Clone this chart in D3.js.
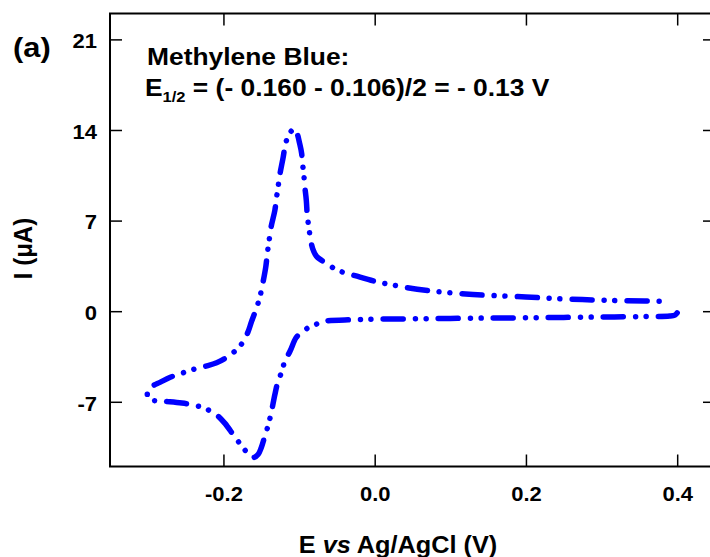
<!DOCTYPE html>
<html lang="en">
<head>
    <meta charset="UTF-8">
    <title>Methylene Blue CV</title>
    <script src="https://cdn.jsdelivr.net/npm/d3@7"></script>
    <style>
        body { margin: 0; background: #fff; }
        svg { display: block; }
        text { font-family: "Liberation Sans", Arial, sans-serif; font-weight: bold; fill: #000; }
    </style>
</head>
<body>
<svg id="chart" width="710" height="557"></svg>

<script>

// axis ticks
var xTicks = [-0.2, 0.0, 0.2, 0.4];
var yTicks = [-7, 0, 7, 14, 21];

// cyclic voltammogram, lower (cathodic) branch from 0.4 V then upper branch back
var potential = [0.400, 0.397, 0.390, 0.350, 0.300, 0.250, 0.200, 0.150, 0.100, 0.050,
    0.000, -0.030, -0.064, -0.077, -0.090, -0.098, -0.104, -0.112, -0.119, -0.123,
    -0.128, -0.132, -0.137, -0.141, -0.1455, -0.150, -0.154, -0.160, -0.1665, -0.172,
    -0.180, -0.187, -0.198, -0.209, -0.225, -0.240, -0.255, -0.271, -0.287, -0.296,
    -0.300, -0.3005, -0.298, -0.292, -0.284,
    -0.271, -0.258, -0.240, -0.223, -0.209, -0.198, -0.185, -0.174, -0.1675, -0.163,
    -0.1565, -0.152, -0.148, -0.144, -0.142, -0.140, -0.137, -0.132, -0.130, -0.128,
    -0.126, -0.121, -0.118, -0.113, -0.106, -0.103, -0.099, -0.0966, -0.0957, -0.094,
    -0.0926, -0.0904, -0.089, -0.087, -0.085, -0.082, -0.077, -0.0705, -0.057, -0.043,
    -0.026, 0.000, 0.0155, 0.042, 0.073, 0.088, 0.130, 0.200, 0.245, 0.289, 0.333, 0.390];

var current = [-0.13, -0.30, -0.38, -0.42, -0.45, -0.48, -0.51, -0.53, -0.56, -0.59,
    -0.62, -0.66, -0.76, -1.0, -1.35, -1.7, -2.05, -3.1, -3.9, -4.7,
    -5.45, -6.45, -7.9, -8.85, -9.7, -10.55, -11.05, -11.3, -11.1, -10.7,
    -10.1, -9.55, -8.67, -8.02, -7.5, -7.25, -7.1, -7.0, -6.93, -6.85,
    -6.6, -6.25, -5.95, -5.72, -5.5,
    -5.12, -4.86, -4.5, -4.24, -3.98, -3.65, -3.1, -2.37, -1.6, -0.83,
    0.2, 1.06, 2.14, 3.42, 4.45, 5.27, 6.5, 7.79, 8.7, 9.47,
    10.36, 11.9, 12.9, 13.7, 14.1, 13.8, 12.9, 12.2, 11.5, 10.75,
    9.72, 8.56, 7.28, 6.5, 5.6, 4.84, 4.24, 3.94, 3.42, 3.03,
    2.74, 2.31, 2.12, 1.83, 1.57, 1.48, 1.29, 1.10, 0.96, 0.87, 0.80, 0.77];

// frame edges (px)
var fLeft = 110, fRight = 715, fTop = 13.5, fBottom = 466.5;
var stretch = 1.1;   // lettering in the figure is a bit wide

var svg = d3.select("#chart");

var x = d3.scaleLinear().domain([-0.35, 0.45]).range([fLeft, fRight]);
var y = d3.scaleLinear().domain([-12, 23]).range([fBottom, fTop]);

// TICKS (inward, all four sides)
var gx = svg.append("g").attr("transform", "translate(0," + fBottom + ")")
    .call(d3.axisBottom(x).tickValues(xTicks).tickSize(-12).tickPadding(20)
        .tickFormat(function (d) { return d.toFixed(1); }));
var gxTop = svg.append("g").attr("transform", "translate(0," + fTop + ")")
    .call(d3.axisTop(x).tickValues(xTicks).tickSize(-12).tickFormat(""));
var gy = svg.append("g").attr("transform", "translate(" + fLeft + ",0)")
    .call(d3.axisLeft(y).tickValues(yTicks).tickSize(-12).tickPadding(11.8)
        .tickFormat(function (d) { return String(d); }));
var gyRight = svg.append("g").attr("transform", "translate(" + fRight + ",0)")
    .call(d3.axisRight(y).tickValues(yTicks).tickSize(-12).tickFormat(""));

[gx, gxTop, gy, gyRight].forEach(function (g) {
    g.select(".domain").remove();
    g.selectAll(".tick line").attr("stroke", "#000").attr("stroke-width", 1.5);
});

gx.selectAll(".tick text")
    .style("font-family", "Liberation Sans, Arial, sans-serif")
    .style("font-weight", "bold")
    .style("font-size", "20px")
    .attr("fill", "#000")
    .attr("transform", "scale(" + stretch + ",1)");

gy.selectAll(".tick text")
    .style("font-family", "Liberation Sans, Arial, sans-serif")
    .style("font-weight", "bold")
    .style("font-size", "20px")
    .attr("fill", "#000")
    .attr("dy", "0.42em")
    .attr("transform", "scale(" + stretch + ",1)");

// FRAME
svg.append("rect")
    .attr("x", fLeft).attr("y", fTop)
    .attr("width", fRight - fLeft).attr("height", fBottom - fTop)
    .attr("fill", "none").attr("stroke", "#000").attr("stroke-width", 2);

// CURVE
var pts = potential.map(function (v, i) { return [v, current[i]]; });

var line = d3.line()
    .x(function (d) { return x(d[0]); })
    .y(function (d) { return y(d[1]); })
    .curve(d3.curveCatmullRom.alpha(0.5));

svg.append("path")
    .datum(pts)
    .attr("d", line)
    .attr("fill", "none")
    .attr("stroke", "#0000ff")
    .attr("stroke-width", 5.5)
    .attr("stroke-linecap", "round")
    .attr("stroke-linejoin", "round")
    .attr("stroke-dasharray", "20,12,0.01,10.7,0.01,12.3");

// LABELS
function label(tx, ty, size, rot) {
    return svg.append("text")
        .attr("transform", "translate(" + tx + "," + ty + ") scale(" + stretch + ",1)" + (rot ? " rotate(" + rot + ")" : ""))
        .style("font-size", size + "px");
}

label(13, 57, 28).text("(a)");

label(147, 65, 24).text("Methylene Blue:");

var eq = label(145, 96, 24);
eq.append("tspan").text("E");
eq.append("tspan").attr("dy", 6).style("font-size", "15px").text("1/2");
eq.append("tspan").attr("dy", -6).text(" = (- 0.160 - 0.106)/2 = - 0.13 V");

var xt = label(398, 553, 23).attr("text-anchor", "middle");
xt.append("tspan").text("E ");
xt.append("tspan").style("font-style", "italic").text("vs");
xt.append("tspan").text(" Ag/AgCl (V)");

label(32, 248.5, 24, -90).attr("text-anchor", "middle").text("I (\u03bcA)");

</script>
</body>
</html>
